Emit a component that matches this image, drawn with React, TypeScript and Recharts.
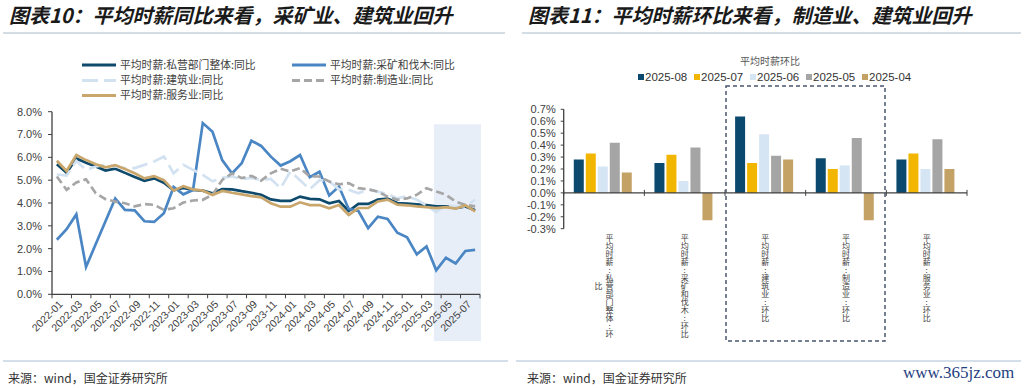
import React from 'react';
import {
  LineChart,
  Line,
  XAxis,
  YAxis,
  ReferenceArea,
  Legend,
  BarChart,
  Bar,
  ReferenceLine,
} from 'recharts';

// ---------------- data: left chart (YoY) ----------------
const MONTHS = [
  '2022-01', '2022-02', '2022-03', '2022-04', '2022-05', '2022-06', '2022-07', '2022-08', '2022-09', '2022-10', '2022-11', '2022-12',
  '2023-01', '2023-02', '2023-03', '2023-04', '2023-05', '2023-06', '2023-07', '2023-08', '2023-09', '2023-10', '2023-11', '2023-12',
  '2024-01', '2024-02', '2024-03', '2024-04', '2024-05', '2024-06', '2024-07', '2024-08', '2024-09', '2024-10', '2024-11', '2024-12',
  '2025-01', '2025-02', '2025-03', '2025-04', '2025-05', '2025-06', '2025-07', '2025-08',
];
const PRIVATE_TOTAL = [
  5.7, 5.33, 5.95, 5.76, 5.6, 5.42, 5.5, 5.32, 5.14, 4.97, 5.08, 4.89,
  4.56, 4.66, 4.57, 4.54, 4.42, 4.61, 4.6, 4.52, 4.45, 4.36, 4.16, 4.09,
  4.09, 4.28, 4.18, 4.16, 3.99, 4.09, 3.65, 3.96, 3.96, 4.15, 4.19, 4.0,
  3.97, 3.94, 3.91, 3.85, 3.85, 3.78, 3.85, 3.68,
];
const MINING = [
  2.39, 2.85, 3.5, 1.2, 2.2, 3.2, 4.2, 3.7, 3.68, 3.2, 3.17, 3.55,
  4.7, 4.38, 4.57, 7.5, 7.12, 5.88, 5.3, 5.74, 6.73, 6.5, 6.03, 5.64,
  5.83, 6.1, 5.13, 5.37, 4.33, 4.72, 3.74, 3.65, 2.9, 3.4, 3.3, 2.7,
  2.5, 1.75, 2.1, 1.05, 1.6, 1.35, 1.9, 1.95,
];
const CONSTRUCTION = [
  5.25, 5.2, 5.85, 5.45, 5.6, 5.67, 5.6, 5.53, 5.53, 5.67, 5.82, 6.04,
  5.3, 5.67, 5.45, 5.23, 4.95, 5.1, 5.16, 5.05, 5.1, 5.0, 5.05, 4.65,
  5.38, 5.0, 4.6, 5.0, 4.95, 4.6, 4.58, 4.43, 4.6, 4.5, 4.4, 4.2,
  4.3, 4.14, 3.9, 3.6, 3.9, 3.85, 3.85, 4.15,
];
const MANUFACTURING = [
  5.16, 4.58, 4.9, 5.04, 4.43, 4.17, 4.06, 3.99, 3.85, 3.95, 3.92, 3.7,
  3.77, 4.02, 4.11, 4.14, 4.36, 5.01, 5.3, 5.09, 5.19, 4.98, 5.3, 5.5,
  5.38, 5.53, 5.16, 5.16, 4.94, 4.82, 4.87, 4.65, 4.6, 4.5, 4.28, 4.14,
  4.2, 4.36, 4.65, 4.5, 4.36, 4.06, 3.92, 3.85,
];
const SERVICES = [
  5.85, 5.4, 6.1, 5.88, 5.7, 5.56, 5.66, 5.49, 5.3, 5.08, 5.18, 5.0,
  4.54, 4.74, 4.6, 4.54, 4.35, 4.53, 4.45, 4.38, 4.3, 4.25, 3.99, 3.84,
  3.84, 4.03, 3.91, 3.91, 3.77, 3.91, 3.48, 3.78, 3.78, 4.07, 4.15, 3.93,
  3.9, 3.85, 3.82, 3.78, 3.82, 3.75, 3.9, 3.63,
];
const Y_TICKS_LEFT = [0, 1, 2, 3, 4, 5, 6, 7, 8];
const SHADE_RANGE = { x1: 39.25, x2: 44.1, y1: -2.05, y2: 7.45 };

// ---------------- data: right chart (MoM) ----------------
const BAR_CATEGORIES = [
  '平均时薪:私营部门整体:环比',
  '平均时薪:采矿和伐木:环比',
  '平均时薪:建筑业:环比',
  '平均时薪:制造业:环比',
  '平均时薪:服务业:环比',
];
const BAR_PERIODS = ['2025-08', '2025-07', '2025-06', '2025-05', '2025-04'];
const MOM_2025_08 = [0.28, 0.25, 0.64, 0.29, 0.28];
const MOM_2025_07 = [0.33, 0.32, 0.25, 0.2, 0.33];
const MOM_2025_06 = [0.22, 0.1, 0.49, 0.23, 0.2];
const MOM_2025_05 = [0.42, 0.38, 0.31, 0.46, 0.45];
const MOM_2025_04 = [0.17, -0.23, 0.28, -0.23, 0.2];
const Y_TICKS_RIGHT = [-0.3, -0.2, -0.1, 0, 0.1, 0.2, 0.3, 0.4, 0.5, 0.6, 0.7];

// ---------------- styles ----------------
const NAVY = '#0e4a6c';
const MINING_BLUE = '#4a86c4';
const LIGHT_BLUE = '#d2e2f1';
const GREY = '#a6a6a6';
const GOLD = '#c9a66b';
const AXIS = '#404040';
const TEXT = '#404040';
const CJK = '"Noto Sans CJK SC", sans-serif';
const LATIN = '"Liberation Sans", Arial, sans-serif';

const BAR_COLORS = ['#0b4a6e', '#f3b600', '#d6e5f4', '#a5a5a5', '#c4a265'];
const BAR_KEYS = ['m08', 'm07', 'm06', 'm05', 'm04'];
const BAR_SERIES = [MOM_2025_08, MOM_2025_07, MOM_2025_06, MOM_2025_05, MOM_2025_04];

const LINE_SERIES = [
  { key: 'total', name: '平均时薪:私营部门整体:同比', color: NAVY, dash: undefined as string | undefined, values: PRIVATE_TOTAL },
  { key: 'mining', name: '平均时薪:采矿和伐木:同比', color: MINING_BLUE, dash: undefined as string | undefined, values: MINING },
  { key: 'construction', name: '平均时薪:建筑业:同比', color: LIGHT_BLUE, dash: '16 6', values: CONSTRUCTION },
  { key: 'manufacturing', name: '平均时薪:制造业:同比', color: GREY, dash: '8 4', values: MANUFACTURING },
  { key: 'services', name: '平均时薪:服务业:同比', color: GOLD, dash: undefined as string | undefined, values: SERVICES },
];

const lineData = MONTHS.map((month, i) => {
  const row: Record<string, number | string> = { x: i + 0.5, month };
  LINE_SERIES.forEach((s) => {
    row[s.key] = s.values[i];
  });
  return row;
});

const barData = BAR_CATEGORIES.map((name, i) => {
  const row: Record<string, number | string> = { name };
  BAR_KEYS.forEach((k, j) => {
    row[k] = BAR_SERIES[j][i];
  });
  return row;
});

// ---------------- layout (left chart) ----------------
const L_W = 500;
const L_H = 360;
const L_MARGIN = { top: 111.7, right: 20, bottom: 15.7, left: 8 };
const L_YAXIS_W = 44;
const L_XAXIS_H = 50;
const L_PLOT_W = L_W - L_MARGIN.left - L_MARGIN.right - L_YAXIS_W;
const HALF_BAND = L_PLOT_W / MONTHS.length / 2;
const BOUNDARY_TICKS = MONTHS.map((_, i) => i).filter((i) => i % 2 === 0).concat([MONTHS.length]);

const MonthTick = (props: any) => {
  const { x, y, payload } = props;
  const idx = payload.value;
  if (idx >= MONTHS.length) return null;
  const cx = x + HALF_BAND + 4;
  const cy = y + 2;
  return (
    <text
      x={cx}
      y={cy}
      dy="0.35em"
      textAnchor="end"
      transform={`rotate(-45 ${cx} ${cy})`}
      fontSize={10.5}
      fontFamily={LATIN}
      fill={TEXT}
    >
      {MONTHS[idx]}
    </text>
  );
};

const LineLegend = () => {
  const colX = [12, 222];
  const rowY = [8, 23.5, 38.5];
  return (
    <svg width={440} height={50} style={{ display: 'block' }}>
      {LINE_SERIES.map((s, i) => {
        const cx = colX[i % 2];
        const cy = rowY[Math.floor(i / 2)];
        return (
          <g key={s.key}>
            <line x1={cx} x2={cx + 34} y1={cy} y2={cy} stroke={s.color} strokeWidth={3} strokeDasharray={s.dash} />
            <text x={cx + 38} y={cy} dy="0.35em" fontSize={10.8} fontFamily={CJK} fill={TEXT}>
              {s.name}
            </text>
          </g>
        );
      })}
    </svg>
  );
};

// ---------------- layout (right chart) ----------------
const R_W = 512;
const R_H = 388;
const R_MARGIN = { top: 109.3, right: 57, bottom: 29.3, left: 7.7 };
const R_YAXIS_W = 44;
const R_XAXIS_H = 130;
const R_PLOT_W = R_W - R_MARGIN.left - R_MARGIN.right - R_YAXIS_W;
const R_PLOT_H = R_H - R_MARGIN.top - R_MARGIN.bottom - R_XAXIS_H;
const BAR_BAND = R_PLOT_W / BAR_CATEGORIES.length;
const Y_MAX_R = 0.7;
const Y_MIN_R = -0.3;
const ZERO_Y = R_MARGIN.top + (Y_MAX_R / (Y_MAX_R - Y_MIN_R)) * R_PLOT_H;
const CHAR_STEP = 8;
const MAX_CHARS = 13;

const verticalStyle: React.CSSProperties = {
  writingMode: 'vertical-rl' as any,
  textOrientation: 'upright' as any,
};

const CategoryTick = (props: any) => {
  const { x, y, payload, index } = props;
  const chars = Array.from(String(payload.value));
  const cols: string[][] = [];
  for (let i = 0; i < chars.length; i += MAX_CHARS) cols.push(chars.slice(i, i + MAX_CHARS));
  const colGap = 11;
  const top = y + 9.6 - CHAR_STEP / 2;
  const firstMid = top + (cols[0].length * CHAR_STEP) / 2;
  const tickXs = [x - BAR_BAND / 2];
  if (index === BAR_CATEGORIES.length - 1) tickXs.push(x + BAR_BAND / 2);
  return (
    <g>
      {tickXs.map((tx, k) => (
        <line key={'t' + k} x1={tx} x2={tx} y1={ZERO_Y - 3} y2={ZERO_Y + 3} stroke={AXIS} strokeWidth={1} />
      ))}
      {cols.map((col, ci) => {
        const cx = x + ((cols.length - 1) / 2 - ci) * colGap;
        return (
          <text
            key={ci}
            x={cx}
            y={ci === 0 ? top : firstMid}
            textAnchor={ci === 0 ? 'start' : 'middle'}
            fontSize={CHAR_STEP}
            fontFamily={CJK}
            fill={TEXT}
            style={verticalStyle}
          >
            {col.join('')}
          </text>
        );
      })}
    </g>
  );
};

const BarLegend = () => (
  <div style={{ width: 512, fontFamily: LATIN }}>
    <div style={{ position: 'absolute', left: 0, top: 0, width: 516, textAlign: 'center', fontFamily: CJK, fontSize: 10, color: '#595959', lineHeight: '14px' }}>
      平均时薪环比
    </div>
    <div style={{ position: 'absolute', left: 126, top: 15, height: 16, display: 'flex', alignItems: 'center' }}>
      {BAR_PERIODS.map((p, i) => (
        <div key={p} style={{ display: 'flex', alignItems: 'center', width: 56 }}>
          <span style={{ display: 'inline-block', width: 6, height: 6, background: BAR_COLORS[i], marginRight: 1 }} />
          <span style={{ fontSize: 11.5, color: '#333', lineHeight: '16px' }}>{p}</span>
        </div>
      ))}
    </div>
  </div>
);

const titleStyle = (left: number): React.CSSProperties => ({
  position: 'absolute',
  left,
  top: 2,
  fontFamily: CJK,
  fontSize: 20,
  fontWeight: 700,
  fontStyle: 'italic',
  color: '#1a1a1a',
  lineHeight: '26px',
  whiteSpace: 'nowrap',
});

const sourceStyle = (left: number): React.CSSProperties => ({
  position: 'absolute',
  left,
  top: 370,
  fontFamily: CJK,
  fontSize: 12,
  color: '#333',
  lineHeight: '16px',
  whiteSpace: 'nowrap',
});

export default function App() {
  return (
    <div style={{ position: 'absolute', left: 0, top: 0, width: 1024, height: 388, background: '#fff', overflow: 'hidden' }}>
      <div style={titleStyle(9)}>图表10：平均时薪同比来看，采矿业、建筑业回升</div>
      <div style={titleStyle(528)}>图表11：平均时薪环比来看，制造业、建筑业回升</div>

      <div style={{ position: 'absolute', left: 0, top: 0 }}>
        <LineChart width={L_W} height={L_H} data={lineData} margin={L_MARGIN}>
          <ReferenceArea
            x1={SHADE_RANGE.x1}
            x2={SHADE_RANGE.x2}
            y1={SHADE_RANGE.y1}
            y2={SHADE_RANGE.y2}
            ifOverflow="visible"
            fill="#e8eef8"
            fillOpacity={1}
            stroke="none"
          />
          <XAxis
            type="number"
            dataKey="x"
            domain={[0, MONTHS.length]}
            ticks={BOUNDARY_TICKS}
            interval={0}
            tick={<MonthTick />}
            tickSize={4}
            tickMargin={2}
            tickLine={{ stroke: AXIS }}
            axisLine={{ stroke: AXIS, strokeWidth: 1.3 }}
            height={L_XAXIS_H}
            allowDataOverflow
          />
          <YAxis
            domain={[0, 8]}
            ticks={Y_TICKS_LEFT}
            interval={0}
            width={L_YAXIS_W}
            tickSize={4}
            tickMargin={6}
            tickFormatter={(v: number) => v.toFixed(1) + '%'}
            tick={{ fontSize: 11, fill: TEXT, fontFamily: LATIN }}
            tickLine={{ stroke: AXIS }}
            axisLine={{ stroke: AXIS, strokeWidth: 1.3 }}
          />
          <Legend
            layout="horizontal"
            verticalAlign="middle"
            align="center"
            wrapperStyle={{ position: 'absolute', left: 70, top: 57, width: 440, height: 50 }}
            content={<LineLegend />}
          />
          {LINE_SERIES.map((s) => (
            <Line
              key={s.key}
              type="linear"
              dataKey={s.key}
              name={s.name}
              stroke={s.color}
              strokeWidth={2.7}
              strokeDasharray={s.dash}
              dot={false}
              activeDot={false}
              isAnimationActive={false}
            />
          ))}
        </LineChart>
      </div>

      <div style={{ position: 'absolute', left: 512, top: 0 }}>
        <BarChart width={R_W} height={R_H} data={barData} margin={R_MARGIN} barCategoryGap="12.5%" barGap={2}>
          <XAxis
            dataKey="name"
            interval={0}
            height={R_XAXIS_H}
            tick={<CategoryTick />}
            tickSize={0}
            tickMargin={0}
            axisLine={false}
            tickLine={false}
          />
          <YAxis
            domain={[Y_MIN_R, Y_MAX_R]}
            ticks={Y_TICKS_RIGHT}
            interval={0}
            width={R_YAXIS_W}
            tickSize={3}
            tickMargin={5}
            tickFormatter={(v: number) => v.toFixed(1) + '%'}
            tick={{ fontSize: 11, fill: TEXT, fontFamily: LATIN }}
            tickLine={{ stroke: AXIS }}
            axisLine={{ stroke: AXIS, strokeWidth: 1.3 }}
            allowDataOverflow
          />
          <Legend
            layout="horizontal"
            verticalAlign="middle"
            align="center"
            wrapperStyle={{ position: 'absolute', left: 0, top: 54, width: 512, height: 32 }}
            content={<BarLegend />}
          />
          {BAR_KEYS.map((k, i) => (
            <Bar key={k} dataKey={k} name={BAR_PERIODS[i]} fill={BAR_COLORS[i]} isAnimationActive={false} />
          ))}
          <ReferenceLine y={0} stroke={AXIS} strokeWidth={1.3} />
        </BarChart>
      </div>

      <svg width={1024} height={388} style={{ position: 'absolute', left: 0, top: 0, pointerEvents: 'none' }}>
        <line x1={3} x2={505} y1={33} y2={33} stroke="#a9b9c9" strokeWidth={1.2} />
        <line x1={522} x2={1021} y1={33} y2={33} stroke="#a9b9c9" strokeWidth={1.2} />
        <line x1={3} x2={508} y1={361} y2={361} stroke="#a9c0d4" strokeWidth={1.2} />
        <line x1={516} x2={1021} y1={361} y2={361} stroke="#a9c0d4" strokeWidth={1.2} />
        <rect x={726} y={86} width={159} height={255} fill="none" stroke="#4b5670" strokeWidth={1.5} strokeDasharray="4 3" />
      </svg>

      <div style={sourceStyle(8)}>来源：wind，国金证券研究所</div>
      <div style={sourceStyle(527)}>来源：wind，国金证券研究所</div>
      <div
        style={{
          position: 'absolute',
          left: 903,
          top: 363,
          fontFamily: '"Liberation Serif", "DejaVu Serif", serif',
          fontSize: 17,
          color: '#1f3f7f',
          lineHeight: '20px',
          whiteSpace: 'nowrap',
        }}
      >
        www.365jz.com
      </div>
    </div>
  );
}
